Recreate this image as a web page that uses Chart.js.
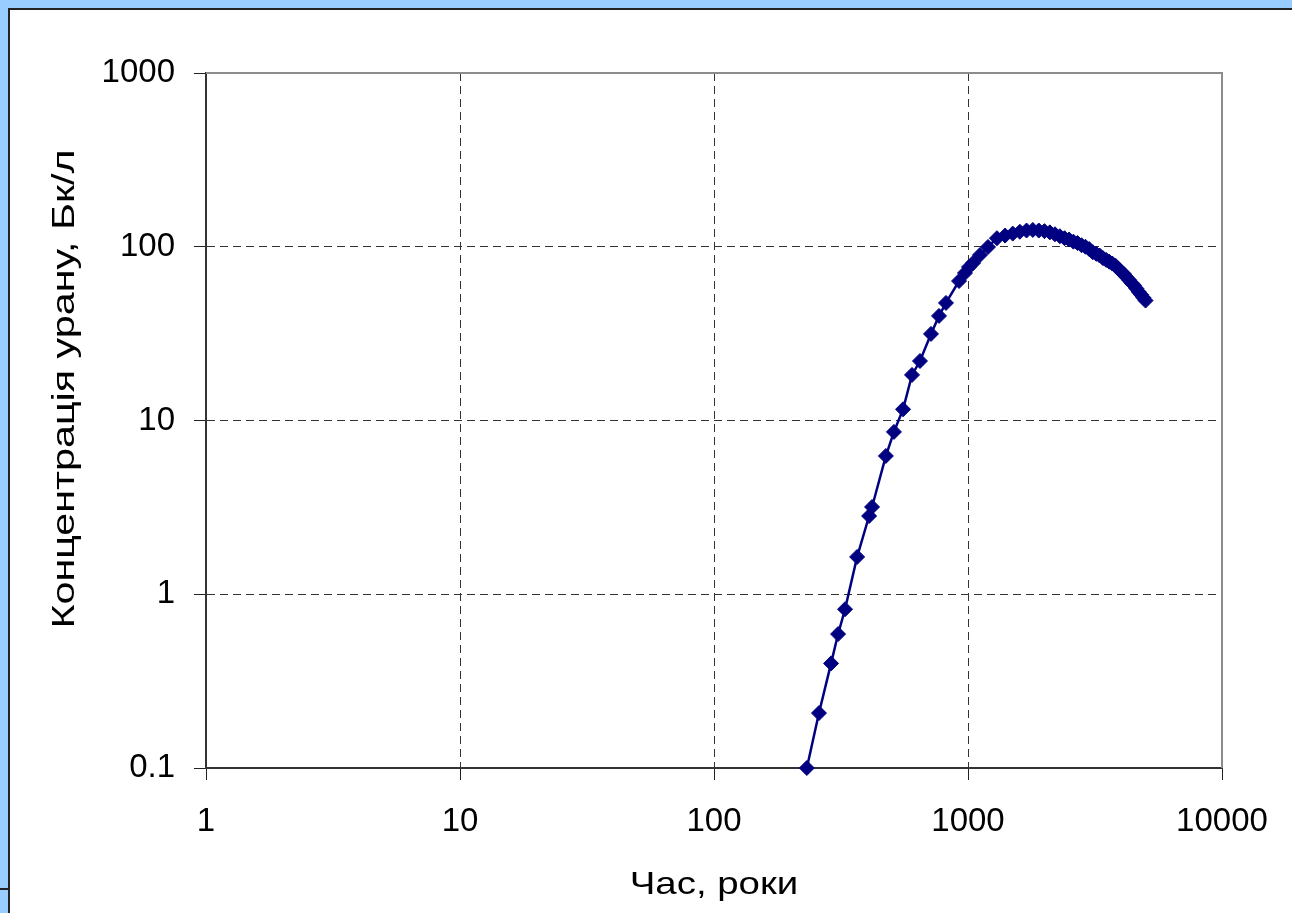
<!DOCTYPE html>
<html>
<head>
<meta charset="utf-8">
<script src="https://cdn.jsdelivr.net/npm/chart.js@4"></script>
<style>
  body { margin: 0; background: #99ccff; width: 1292px; height: 913px; overflow: hidden; position: relative; }
  #frame { position: absolute; left: 8px; top: 8px; width: 1282px; height: 903px; background: #fff;
           border-left: 2px solid #222; border-top: 2px solid #222; }
  #mark { position: absolute; left: 0; top: 888px; width: 8px; height: 2px; background: #222; }
  canvas { display: block; }
</style>
</head>
<body>
<div id="mark"></div>
<div id="frame"><canvas id="chart" width="1282" height="903"></canvas></div>
<script>
// час, роки
const timeYears = [232, 259, 289, 308, 328, 366, 408, 419, 475, 511, 555, 602, 647, 715, 769, 819,
  922, 973, 1009, 1047, 1115, 1199, 1300, 1400, 1500, 1600, 1700, 1800, 1900, 2000, 2100, 2200,
  2300, 2400, 2500, 2600, 2700, 2800, 2900, 3000, 3100, 3200, 3300, 3400, 3500, 3600, 3700, 3800,
  3900, 4000, 4100, 4200, 4300, 4400, 4500, 4600, 4700, 4800, 4900, 5000];
// концентрація урану, Бк/л
const uranium = [0.1, 0.207, 0.40, 0.59, 0.82, 1.64, 2.82, 3.18, 6.25, 8.6, 11.6, 18.3, 22, 31.5, 40, 47.5,
  63.5, 70.6, 76.4, 80.6, 89.7, 99.7, 112, 116, 119, 122, 124, 125, 124, 123, 121, 118,
  115, 112, 110, 107, 105, 102, 100, 97, 93, 91, 89, 86, 84, 82, 80, 78,
  75, 72, 70, 67, 64.5, 62, 60, 57.5, 55, 53, 51, 49];

const xTicks = [1, 10, 100, 1000, 10000];
const yTicks = [0.1, 1, 10, 100, 1000];
const xTitle = 'Час, роки';
const yTitle = 'Концентрація урану, Бк/л';

const navy = '#000080';
const family = '"Liberation Sans", Arial, sans-serif';
const tickFont = { family: family, size: 33 };

// сітка без крайніх ліній
const gridColor = (ticks) => (c) => {
  if (!c.tick) return '#333';
  const v = c.tick.value;
  return (v === ticks[0] || v === ticks[ticks.length - 1]) ? 'rgba(0,0,0,0)' : '#333';
};

const plotFrame = {
  id: 'plotFrame',
  beforeDatasetsDraw(chart) {
    const { ctx, chartArea: a } = chart;
    ctx.save();
    ctx.strokeStyle = '#8c8c8c';
    ctx.lineWidth = 2;
    ctx.beginPath();
    ctx.moveTo(a.left, a.top);
    ctx.lineTo(a.right, a.top);
    ctx.lineTo(a.right, a.bottom);
    ctx.stroke();
    ctx.restore();
  }
};

// підписи осей розтягнуті, як у вихідному рисунку Excel
const axisTitles = {
  id: 'axisTitles',
  afterDraw(chart) {
    const { ctx, chartArea: a } = chart;
    ctx.save();
    ctx.fillStyle = '#000';
    ctx.font = '32px ' + family;
    ctx.textAlign = 'center';
    ctx.textBaseline = 'middle';

    ctx.save();
    ctx.translate((a.left + a.right) / 2, 875);
    ctx.scale(1.2, 1);
    ctx.fillText(xTitle, 0, 0);
    ctx.restore();

    ctx.save();
    ctx.translate(55, 379);
    ctx.rotate(-Math.PI / 2);
    ctx.scale(1.29, 1);
    ctx.fillText(yTitle, 0, 0);
    ctx.restore();

    ctx.restore();
  }
};

new Chart(document.getElementById('chart'), {
  type: 'line',
  data: {
    datasets: [{
      data: timeYears.map((t, i) => ({ x: t, y: uranium[i] })),
      borderColor: navy,
      borderWidth: 2.5,
      backgroundColor: navy,
      pointStyle: 'rectRot',
      pointRadius: 7.5,
      pointBorderWidth: 1,
      pointBorderColor: navy,
      pointBackgroundColor: navy,
      tension: 0,
      clip: false
    }]
  },
  options: {
    responsive: false,
    animation: false,
    layout: { padding: { top: 63, right: 70, left: 0, bottom: 0 } },
    plugins: { legend: { display: false }, tooltip: { enabled: false } },
    scales: {
      x: {
        type: 'logarithmic',
        min: 1,
        max: 10000,
        afterBuildTicks: (s) => { s.ticks = xTicks.map(v => ({ value: v })); },
        afterFit: (s) => { s.height = 145; },
        ticks: { callback: (v) => String(v), font: tickFont, color: '#000', padding: 22, maxRotation: 0, autoSkip: false },
        grid: { color: gridColor(xTicks), lineWidth: 1, tickLength: 12, tickColor: '#222', tickWidth: 1 },
        border: { color: '#333', width: 2, dash: [8, 5] }
      },
      y: {
        type: 'logarithmic',
        min: 0.1,
        max: 1000,
        afterBuildTicks: (s) => { s.ticks = yTicks.map(v => ({ value: v })); },
        afterFit: (s) => { s.width = 196; },
        ticks: { callback: (v) => String(v), font: tickFont, color: '#000', padding: 19, autoSkip: false },
        grid: { color: gridColor(yTicks), lineWidth: 1, tickLength: 12, tickColor: '#222', tickWidth: 1 },
        border: { color: '#333', width: 2, dash: [8, 5] }
      }
    }
  },
  plugins: [plotFrame, axisTitles]
});
</script>
</body>
</html>
